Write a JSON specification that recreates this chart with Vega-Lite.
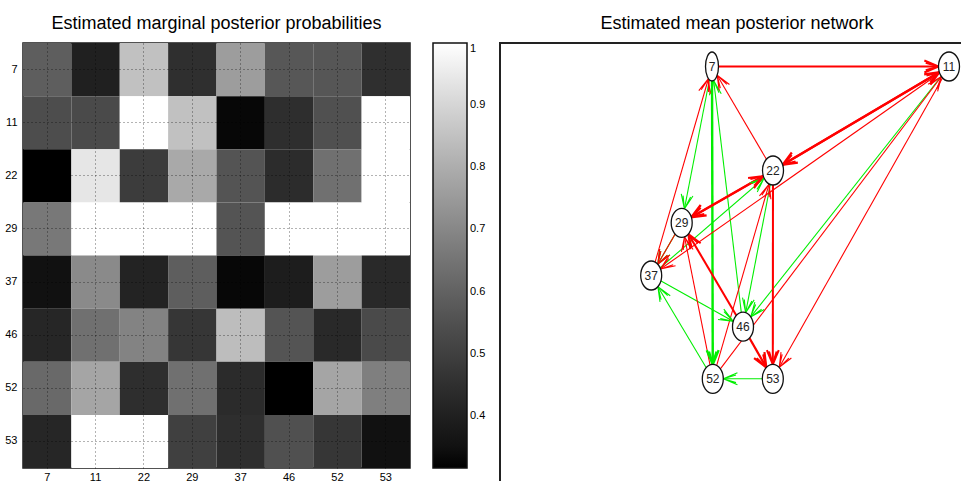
{
  "$schema": "https://vega.github.io/schema/vega-lite/v6.json",
  "autosize": {"type": "none"},
  "padding": {"left": 23, "top": 43, "right": 938, "bottom": 438},
  "background": "white",
  "config": {
    "font": "Liberation Sans",
    "title": {"fontSize": 18, "fontWeight": "normal", "color": "#000", "font": "Liberation Sans"},
    "axis": {"labelFont": "Liberation Sans", "labelColor": "#000"},
    "legend": {"labelFont": "Liberation Sans", "labelColor": "#000"}
  },
  "datasets": {
    "matrix": [
      {"row": 7, "col": 7, "p": 0.59}, {"row": 7, "col": 11, "p": 0.40}, {"row": 7, "col": 22, "p": 0.85}, {"row": 7, "col": 29, "p": 0.45}, {"row": 7, "col": 37, "p": 0.76}, {"row": 7, "col": 46, "p": 0.57}, {"row": 7, "col": 52, "p": 0.565}, {"row": 7, "col": 53, "p": 0.45},
      {"row": 11, "col": 7, "p": 0.54}, {"row": 11, "col": 11, "p": 0.53}, {"row": 11, "col": 22, "p": 1.0}, {"row": 11, "col": 29, "p": 0.85}, {"row": 11, "col": 37, "p": 0.33}, {"row": 11, "col": 46, "p": 0.445}, {"row": 11, "col": 52, "p": 0.55}, {"row": 11, "col": 53, "p": 1.0},
      {"row": 22, "col": 7, "p": 0.316}, {"row": 22, "col": 11, "p": 0.94}, {"row": 22, "col": 22, "p": 0.49}, {"row": 22, "col": 29, "p": 0.79}, {"row": 22, "col": 37, "p": 0.56}, {"row": 22, "col": 46, "p": 0.44}, {"row": 22, "col": 52, "p": 0.64}, {"row": 22, "col": 53, "p": 1.0},
      {"row": 29, "col": 7, "p": 0.66}, {"row": 29, "col": 11, "p": 1.0}, {"row": 29, "col": 22, "p": 1.0}, {"row": 29, "col": 29, "p": 1.0}, {"row": 29, "col": 37, "p": 0.56}, {"row": 29, "col": 46, "p": 1.0}, {"row": 29, "col": 52, "p": 1.0}, {"row": 29, "col": 53, "p": 1.0},
      {"row": 37, "col": 7, "p": 0.35}, {"row": 37, "col": 11, "p": 0.71}, {"row": 37, "col": 22, "p": 0.41}, {"row": 37, "col": 29, "p": 0.59}, {"row": 37, "col": 37, "p": 0.33}, {"row": 37, "col": 46, "p": 0.39}, {"row": 37, "col": 52, "p": 0.76}, {"row": 37, "col": 53, "p": 0.43},
      {"row": 46, "col": 7, "p": 0.42}, {"row": 46, "col": 11, "p": 0.64}, {"row": 46, "col": 22, "p": 0.69}, {"row": 46, "col": 29, "p": 0.47}, {"row": 46, "col": 37, "p": 0.84}, {"row": 46, "col": 46, "p": 0.56}, {"row": 46, "col": 52, "p": 0.43}, {"row": 46, "col": 53, "p": 0.53},
      {"row": 52, "col": 7, "p": 0.62}, {"row": 52, "col": 11, "p": 0.78}, {"row": 52, "col": 22, "p": 0.445}, {"row": 52, "col": 29, "p": 0.64}, {"row": 52, "col": 37, "p": 0.435}, {"row": 52, "col": 46, "p": 0.316}, {"row": 52, "col": 52, "p": 0.78}, {"row": 52, "col": 53, "p": 0.68},
      {"row": 53, "col": 7, "p": 0.42}, {"row": 53, "col": 11, "p": 1.0}, {"row": 53, "col": 22, "p": 1.0}, {"row": 53, "col": 29, "p": 0.50}, {"row": 53, "col": 37, "p": 0.445}, {"row": 53, "col": 46, "p": 0.55}, {"row": 53, "col": 52, "p": 0.47}, {"row": 53, "col": 53, "p": 0.35}
    ],
    "nodes": [
      {"id": "7", "x": 212, "y": 23.5},
      {"id": "11", "x": 449, "y": 23.5},
      {"id": "22", "x": 273, "y": 127.5},
      {"id": "29", "x": 181.7, "y": 179.8},
      {"id": "37", "x": 151.2, "y": 232.5},
      {"id": "46", "x": 243, "y": 283.7},
      {"id": "52", "x": 212.8, "y": 335.8},
      {"id": "53", "x": 272.8, "y": 335.8}
    ],
    "edges": [
      {"from": "7", "to": "29", "sign": "negative", "weight": 0.6},
      {"from": "7", "to": "52", "sign": "negative", "weight": 0.95},
      {"from": "46", "to": "7", "sign": "negative", "weight": 0.6},
      {"from": "11", "to": "46", "sign": "negative", "weight": 0.6},
      {"from": "22", "to": "46", "sign": "negative", "weight": 0.6},
      {"from": "37", "to": "22", "sign": "negative", "weight": 0.6},
      {"from": "29", "to": "37", "sign": "negative", "weight": 0.6},
      {"from": "37", "to": "46", "sign": "negative", "weight": 0.6},
      {"from": "52", "to": "37", "sign": "negative", "weight": 0.6},
      {"from": "53", "to": "52", "sign": "negative", "weight": 0.6},
      {"from": "46", "to": "53", "sign": "negative", "weight": 0.6},
      {"from": "7", "to": "11", "sign": "positive", "weight": 0.85},
      {"from": "22", "to": "7", "sign": "positive", "weight": 0.6},
      {"from": "37", "to": "7", "sign": "positive", "weight": 0.6},
      {"from": "22", "to": "11", "sign": "positive", "weight": 0.9},
      {"from": "11", "to": "22", "sign": "positive", "weight": 0.9},
      {"from": "11", "to": "37", "sign": "positive", "weight": 0.6},
      {"from": "52", "to": "11", "sign": "positive", "weight": 0.6},
      {"from": "11", "to": "53", "sign": "positive", "weight": 0.6},
      {"from": "22", "to": "29", "sign": "positive", "weight": 0.95},
      {"from": "29", "to": "22", "sign": "positive", "weight": 0.85},
      {"from": "29", "to": "37", "sign": "positive", "weight": 0.6},
      {"from": "46", "to": "29", "sign": "positive", "weight": 0.85},
      {"from": "52", "to": "29", "sign": "positive", "weight": 0.6},
      {"from": "52", "to": "22", "sign": "positive", "weight": 0.6},
      {"from": "22", "to": "53", "sign": "positive", "weight": 0.85},
      {"from": "46", "to": "53", "sign": "positive", "weight": 0.9}
    ]
  },
  "bounds": "flush",
  "spacing": 90,
  "resolve": {"scale": {"color": "independent", "stroke": "independent", "strokeWidth": "independent", "shape": "independent", "x": "independent", "y": "independent"}},
  "hconcat": [
    {
      "width": 387,
      "height": 425,
      "title": {"text": "Estimated marginal posterior probabilities", "offset": 10, "frame": "group"},
      "view": {"stroke": "#1a1a1a", "strokeWidth": 1.5},
      "data": {"name": "matrix"},
      "mark": {"type": "rect"},
      "encoding": {
        "x": {"field": "col", "type": "ordinal",
          "scale": {"paddingInner": 0, "paddingOuter": 0},
          "axis": {"title": null, "labelAngle": 0, "labelFontSize": 11, "labelPadding": 3, "ticks": false, "domain": false, "grid": true, "gridDash": [1, 3], "gridColor": "#000", "gridOpacity": 0.6, "zindex": 1, "bandPosition": 0.5}},
        "y": {"field": "row", "type": "ordinal",
          "scale": {"paddingInner": 0, "paddingOuter": 0},
          "axis": {"title": null, "labelFontSize": 11, "labelPadding": 6, "ticks": false, "domain": false, "grid": true, "gridDash": [1, 3], "gridColor": "#000", "gridOpacity": 0.6, "zindex": 1, "bandPosition": 0.5}},
        "color": {"field": "p", "type": "quantitative",
          "scale": {"domain": [0.316, 1], "range": ["#000000", "#ffffff"], "zero": false, "nice": false},
          "legend": {"title": null, "orient": "right", "offset": 23, "padding": 0, "direction": "vertical", "gradientLength": 425, "gradientThickness": 34, "gradientStrokeColor": "#111", "gradientStrokeWidth": 1.5, "labelFontSize": 11, "labelOffset": 3, "labelOverlap": false, "values": [0.4, 0.5, 0.6, 0.7, 0.8, 0.9, 1], "format": "~g"}}
      }
    },
    {
      "width": 474,
      "height": 441,
      "title": {"text": "Estimated mean posterior network", "offset": 10, "frame": "group"},
      "view": {"stroke": "#222", "strokeWidth": 2},
      "layer": [
        {
          "data": {"name": "edges"},
          "transform": [
            {"lookup": "from", "from": {"data": {"name": "nodes"}, "key": "id", "fields": ["x", "y"]}, "as": ["x1", "y1"]},
            {"lookup": "to", "from": {"data": {"name": "nodes"}, "key": "id", "fields": ["x", "y"]}, "as": ["x2", "y2"]}
          ],
          "mark": {"type": "rule"},
          "encoding": {
            "x": {"field": "x1", "type": "quantitative", "scale": {"domain": [0, 474], "nice": false, "zero": false}, "axis": null},
            "y": {"field": "y1", "type": "quantitative", "scale": {"domain": [0, 441], "nice": false, "zero": false, "reverse": true}, "axis": null},
            "x2": {"field": "x2"},
            "y2": {"field": "y2"},
            "stroke": {"field": "sign", "type": "nominal", "scale": {"domain": ["positive", "negative"], "range": ["#ff0000", "#00ee00"]}, "legend": null},
            "strokeWidth": {"field": "weight", "type": "quantitative", "scale": {"domain": [0.5, 1], "range": [0.7, 2.6]}, "legend": null}
          }
        },
        {
          "data": {"name": "edges"},
          "transform": [
            {"lookup": "from", "from": {"data": {"name": "nodes"}, "key": "id", "fields": ["x", "y"]}, "as": ["x1", "y1"]},
            {"lookup": "to", "from": {"data": {"name": "nodes"}, "key": "id", "fields": ["x", "y"]}, "as": ["x2", "y2"]},
            {"calculate": "datum.x2 - datum.x1", "as": "dx"},
            {"calculate": "datum.y2 - datum.y1", "as": "dy"},
            {"calculate": "sqrt(datum.dx * datum.dx + datum.dy * datum.dy)", "as": "len"},
            {"calculate": "datum.to === '7' ? 6.5 : 10.5", "as": "rx"},
            {"calculate": "datum.rx * 14.5 / sqrt(pow(14.5 * datum.dx / datum.len, 2) + pow(datum.rx * datum.dy / datum.len, 2))", "as": "rr"},
            {"calculate": "datum.x2 - datum.dx / datum.len * datum.rr", "as": "tx"},
            {"calculate": "datum.y2 - datum.dy / datum.len * datum.rr", "as": "ty"},
            {"calculate": "atan2(datum.dy, datum.dx) * 180 / PI", "as": "ang"}
          ],
          "mark": {"type": "point", "shape": "M-1,-0.42L0,0L-1,0.42M-0.9,-0.27L0,0L-0.9,0.27", "filled": false, "size": 800, "opacity": 1},
          "encoding": {
            "x": {"field": "tx", "type": "quantitative", "axis": null},
            "y": {"field": "ty", "type": "quantitative", "axis": null},
            "angle": {"field": "ang", "type": "quantitative", "scale": null},
            "stroke": {"field": "sign", "type": "nominal", "legend": null},
            "strokeWidth": {"field": "weight", "type": "quantitative", "legend": null}
          }
        },
        {
          "data": {"name": "nodes"},
          "mark": {"type": "point", "filled": true, "fill": "white", "stroke": "#111", "strokeWidth": 1.3, "size": 841, "opacity": 1},
          "encoding": {
            "x": {"field": "x", "type": "quantitative", "axis": null},
            "y": {"field": "y", "type": "quantitative", "axis": null},
            "shape": {"field": "id", "type": "nominal", "legend": null,
              "scale": {"domain": ["7", "11", "22", "29", "37", "46", "52", "53"],
                "range": [
                  "M0.448,0C0.448,0.552,0.247,1,0,1C-0.247,1,-0.448,0.552,-0.448,0C-0.448,-0.552,-0.247,-1,0,-1C0.247,-1,0.448,-0.552,0.448,0Z",
                  "M0.724,0C0.724,0.552,0.4,1,0,1C-0.4,1,-0.724,0.552,-0.724,0C-0.724,-0.552,-0.4,-1,0,-1C0.4,-1,0.724,-0.552,0.724,0Z",
                  "M0.724,0C0.724,0.552,0.4,1,0,1C-0.4,1,-0.724,0.552,-0.724,0C-0.724,-0.552,-0.4,-1,0,-1C0.4,-1,0.724,-0.552,0.724,0Z",
                  "M0.724,0C0.724,0.552,0.4,1,0,1C-0.4,1,-0.724,0.552,-0.724,0C-0.724,-0.552,-0.4,-1,0,-1C0.4,-1,0.724,-0.552,0.724,0Z",
                  "M0.724,0C0.724,0.552,0.4,1,0,1C-0.4,1,-0.724,0.552,-0.724,0C-0.724,-0.552,-0.4,-1,0,-1C0.4,-1,0.724,-0.552,0.724,0Z",
                  "M0.724,0C0.724,0.552,0.4,1,0,1C-0.4,1,-0.724,0.552,-0.724,0C-0.724,-0.552,-0.4,-1,0,-1C0.4,-1,0.724,-0.552,0.724,0Z",
                  "M0.724,0C0.724,0.552,0.4,1,0,1C-0.4,1,-0.724,0.552,-0.724,0C-0.724,-0.552,-0.4,-1,0,-1C0.4,-1,0.724,-0.552,0.724,0Z",
                  "M0.724,0C0.724,0.552,0.4,1,0,1C-0.4,1,-0.724,0.552,-0.724,0C-0.724,-0.552,-0.4,-1,0,-1C0.4,-1,0.724,-0.552,0.724,0Z"
                ]}}
          }
        },
        {
          "data": {"name": "nodes"},
          "mark": {"type": "text", "fontSize": 12, "font": "Liberation Sans", "color": "#222", "baseline": "middle", "align": "center"},
          "encoding": {
            "x": {"field": "x", "type": "quantitative", "axis": null},
            "y": {"field": "y", "type": "quantitative", "axis": null},
            "text": {"field": "id"}
          }
        }
      ]
    }
  ]
}
